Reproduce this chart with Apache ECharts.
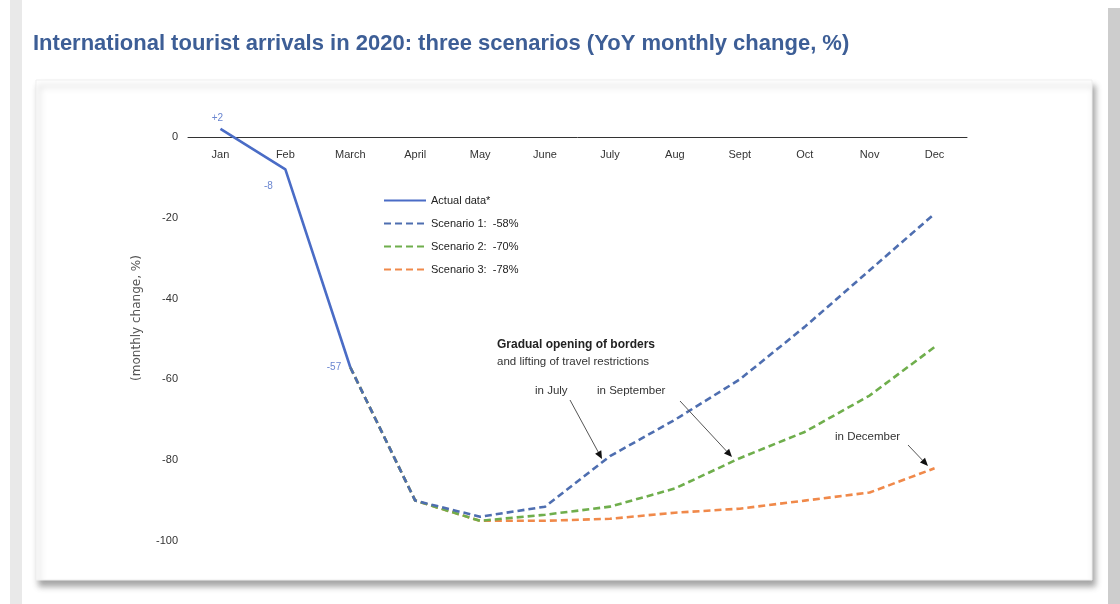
<!DOCTYPE html>
<html>
<head>
<meta charset="utf-8">
<style>
  html, body { margin: 0; padding: 0; background: #ffffff; }
  #chart { width: 1120px; height: 604px; }
</style>
<script src="https://cdn.jsdelivr.net/npm/echarts@6/dist/echarts.min.js"></script>
</head>
<body>
<div id="chart"></div>
<script>
// Month categories on the x axis
const months = ['Jan', 'Feb', 'March', 'April', 'May', 'June', 'July', 'Aug', 'Sept', 'Oct', 'Nov', 'Dec'];

// Year-on-year monthly change in international arrivals, %
const actualData = [2, -8, -57, null, null, null, null, null, null, null, null, null];
const scenario1 = [null, null, -57, -90, -94, -91.5, -79, -70, -60, -47, -33, -19];
const scenario2 = [null, null, -57, -90, -95, -93.5, -91.5, -87, -79.5, -73, -64, -52];
const scenario3 = [null, null, -57, -90, -95, -95, -94.5, -93, -92, -90, -88, -82];

// Series names as shown in the legend
const seriesNames = ['Actual data*', 'Scenario 1:  -58%', 'Scenario 2:  -70%', 'Scenario 3:  -78%'];

// Y axis tick values
const yTicks = [0, -20, -40, -60, -80, -100];

const FONT = '"Liberation Sans", Arial, sans-serif';
const chart = echarts.init(document.getElementById('chart'));

// label placement for the three actual data points
const actualLabelPlacement = {
  0: { position: 'top', offset: [-3, -1] },
  1: { position: 'bottom', offset: [-17, 7] },
  2: { position: 'left', offset: [-4, 0] }
};

const actualSeriesData = actualData.map((v, i) => {
  if (v === null) return null;
  const p = actualLabelPlacement[i] || { position: 'top' };
  return { value: v, label: { position: p.position, offset: p.offset } };
});

const dash = [7, 4];

function arrow(x1, y1, x2, y2) {
  const ang = Math.atan2(y2 - y1, x2 - x1);
  const len = 8, w = 3.5;
  const bx = x2 - len * Math.cos(ang), by = y2 - len * Math.sin(ang);
  const px = -Math.sin(ang) * w, py = Math.cos(ang) * w;
  return [
    { type: 'line', z: 20, shape: { x1: x1, y1: y1, x2: bx, y2: by }, style: { stroke: '#555', lineWidth: 1 } },
    { type: 'polygon', z: 20, shape: { points: [[x2, y2], [bx + px, by + py], [bx - px, by - py]] }, style: { fill: '#111' } }
  ];
}

const graphics = [
  // page frame
  { type: 'rect', z: -20, shape: { x: 10, y: 0, width: 12, height: 604 }, style: { fill: '#e9e9e9' } },
  { type: 'rect', z: -20, shape: { x: 1108, y: 8, width: 12, height: 596 }, style: { fill: '#cdcdcd' } },
  { type: 'rect', z: -19, shape: { x: 22, y: 8, width: 1086, height: 596 }, style: { fill: '#ffffff' } },
  {
    type: 'rect', z: -18,
    shape: { x: 36, y: 80, width: 1056, height: 500 },
    style: {
      fill: '#ffffff', stroke: '#efefef', lineWidth: 1,
      shadowBlur: 6, shadowColor: 'rgba(0,0,0,0.35)', shadowOffsetX: 3, shadowOffsetY: 6
    }
  },
  // annotation text
  {
    type: 'text', z: 20, left: 497, top: 339,
    style: { text: 'Gradual opening of borders', font: 'bold 12px ' + FONT, fill: '#222' }
  },
  {
    type: 'text', z: 20, left: 497, top: 356,
    style: { text: 'and lifting of travel restrictions', font: '11.5px ' + FONT, fill: '#333' }
  },
  { type: 'text', z: 20, left: 535, top: 385, style: { text: 'in July', font: '11.5px ' + FONT, fill: '#333' } },
  { type: 'text', z: 20, left: 597, top: 385, style: { text: 'in September', font: '11.5px ' + FONT, fill: '#333' } },
  { type: 'text', z: 20, left: 835, top: 431, style: { text: 'in December', font: '11.5px ' + FONT, fill: '#333' } }
].concat(arrow(570, 400, 602, 459), arrow(680, 401, 732, 457), arrow(908, 445, 928, 466));

const option = {
  animation: false,
  backgroundColor: '#ffffff',
  textStyle: { fontFamily: FONT },
  title: {
    text: 'International tourist arrivals in 2020: three scenarios (YoY monthly change, %)',
    left: 28, top: 28,
    textStyle: { fontSize: 22, fontWeight: 'bold', color: '#3d5e96', fontFamily: FONT }
  },
  legend: {
    orient: 'vertical',
    left: 383, top: 195,
    itemWidth: 42, itemHeight: 12, itemGap: 12,
    padding: 0,
    itemStyle: { color: 'transparent', borderColor: 'transparent', borderWidth: 0, opacity: 0 },
    textStyle: { fontSize: 11, color: '#222', fontFamily: FONT },
    data: seriesNames
  },
  grid: { left: 188, right: 153, top: 137, bottom: 63 },
  xAxis: {
    type: 'category',
    data: months,
    position: 'top',
    boundaryGap: true,
    axisLine: { lineStyle: { color: '#333', width: 1 } },
    axisTick: { show: false },
    axisLabel: { inside: true, color: '#333', fontSize: 11, margin: 12, fontFamily: FONT }
  },
  yAxis: {
    type: 'value',
    min: -100, max: 0, interval: 20,
    name: '(monthly change, %)',
    nameLocation: 'middle',
    nameRotate: 90,
    nameGap: 45,
    nameTextStyle: {
      color: '#555', fontSize: 12, fontFamily: '"DejaVu Sans", sans-serif',
      padding: [0, 0, 0, 42]
    },
    axisLine: { show: false },
    axisTick: { show: false },
    splitLine: { show: false },
    axisLabel: {
      color: '#333', fontSize: 11, margin: 10, fontFamily: FONT,
      formatter: v => (yTicks.indexOf(v) >= 0 ? String(v) : '')
    }
  },
  series: [
    {
      name: seriesNames[3], type: 'line', data: scenario3, z: 3, clip: false,
      symbol: 'none', showSymbol: false,
      lineStyle: { color: '#f0894a', width: 2.6, type: dash },
      itemStyle: { color: '#f0894a' }
    },
    {
      name: seriesNames[2], type: 'line', data: scenario2, z: 4, clip: false,
      symbol: 'none', showSymbol: false,
      lineStyle: { color: '#6fae4c', width: 2.6, type: dash },
      itemStyle: { color: '#6fae4c' }
    },
    {
      name: seriesNames[1], type: 'line', data: scenario1, z: 5, clip: false,
      symbol: 'none', showSymbol: false,
      lineStyle: { color: '#4e6eb0', width: 2.6, type: dash },
      itemStyle: { color: '#4e6eb0' }
    },
    {
      name: seriesNames[0], type: 'line', data: actualSeriesData, z: 6, clip: false,
      symbol: 'circle', symbolSize: 0.1, showSymbol: true,
      lineStyle: { color: '#4a6cc6', width: 2.6 },
      itemStyle: { color: '#4a6cc6' },
      label: {
        show: true,
        color: '#6a86d0',
        fontSize: 10,
        fontFamily: FONT,
        formatter: p => (p.value > 0 ? '+' + p.value : String(p.value))
      }
    }
  ],
  graphic: graphics
};

chart.setOption(option);
</script>
</body>
</html>
